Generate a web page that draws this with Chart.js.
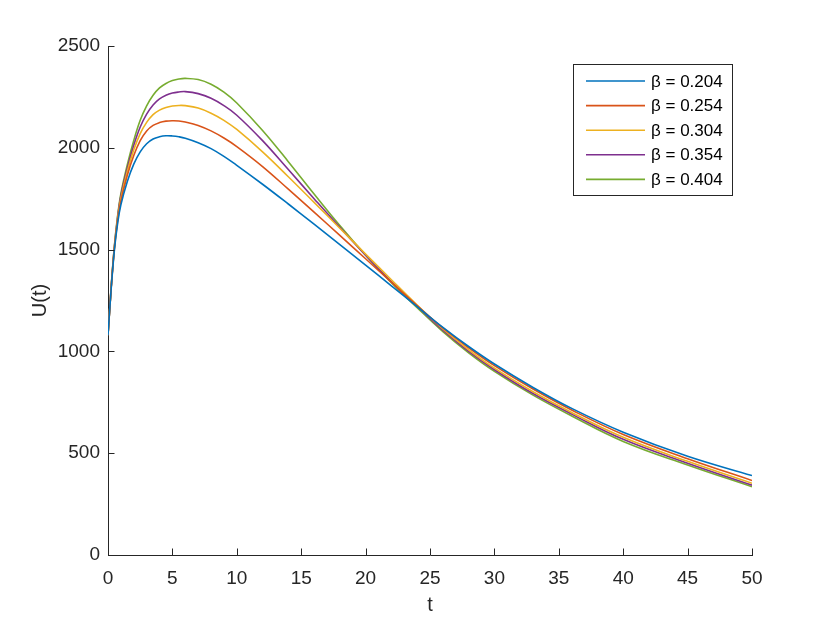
<!DOCTYPE html>
<html>
<head>
<meta charset="utf-8">
<script src="https://cdn.jsdelivr.net/npm/chart.js@4.4.0/dist/chart.umd.min.js"></script>
<style>
  html, body { margin: 0; padding: 0; background: #fff; }
</style>
</head>
<body>
<canvas id="myChart" width="830" height="623"></canvas>
<script>
// time points (t) and U(t) for each beta
const tValues = [0, 0.25, 0.5, 0.75, 1, 1.5, 2, 2.5, 3, 3.5, 4, 4.5, 5, 5.5, 6, 7, 8, 9, 10, 12, 14, 16, 18, 20, 22, 24, 26, 28, 30, 33, 36, 40, 45, 50];
const u204 = [1080, 1310, 1500, 1630, 1720, 1835, 1920, 1980, 2020, 2043, 2054, 2059, 2058, 2054, 2047, 2025, 1996, 1958, 1914, 1821, 1724, 1625, 1525, 1424, 1322, 1220, 1118, 1024, 938, 823, 720, 603, 485, 390];
const u254 = [1080, 1313, 1507, 1642, 1738, 1865, 1962, 2035, 2083, 2110, 2124, 2131, 2133, 2132, 2127, 2110, 2083, 2048, 2006, 1908, 1797, 1684, 1570, 1455, 1340, 1225, 1115, 1018, 930, 815, 712, 592, 473, 366];
const u304 = [1080, 1316, 1512, 1652, 1752, 1885, 1990, 2070, 2125, 2163, 2185, 2198, 2205, 2208, 2207, 2195, 2170, 2135, 2090, 1980, 1858, 1732, 1605, 1478, 1352, 1228, 1110, 1008, 918, 802, 700, 578, 460, 352];
const u354 = [1080, 1318, 1516, 1660, 1765, 1900, 2012, 2102, 2165, 2210, 2240, 2258, 2269, 2274, 2276, 2266, 2243, 2207, 2160, 2035, 1893, 1750, 1609, 1472, 1342, 1222, 1104, 1000, 910, 793, 692, 568, 451, 343];
const u404 = [1080, 1320, 1520, 1668, 1775, 1917, 2036, 2135, 2206, 2258, 2294, 2316, 2330, 2338, 2341, 2335, 2312, 2273, 2220, 2085, 1932, 1773, 1618, 1473, 1338, 1215, 1097, 993, 902, 785, 683, 558, 442, 335];

const betaLabels = ["β = 0.204", "β = 0.254", "β = 0.304", "β = 0.354", "β = 0.404"];
const seriesValues = [u204, u254, u304, u354, u404];
const lineColors = ["#0072BD", "#D95319", "#EDB120", "#7E2F8E", "#77AC30"];

const axisColor = "#262626";
const fontFamily = "'Liberation Sans', Arial, Helvetica, sans-serif";

// MATLAB style ticks pointing into the plot
const innerTicks = {
	id: "innerTicks",
	afterDraw(chart) {
		const { ctx, chartArea, scales } = chart;
		ctx.save();
		ctx.strokeStyle = axisColor;
		ctx.lineWidth = 1;
		ctx.beginPath();
		scales.x.ticks.forEach((tk) => {
			const px = Math.round(scales.x.getPixelForValue(tk.value)) + 0.5;
			ctx.moveTo(px, chartArea.bottom);
			ctx.lineTo(px, chartArea.bottom - 6.5);
		});
		scales.y.ticks.forEach((tk) => {
			const py = Math.round(scales.y.getPixelForValue(tk.value)) + 0.5;
			ctx.moveTo(chartArea.left, py);
			ctx.lineTo(chartArea.left + 6.5, py);
		});
		ctx.stroke();
		ctx.restore();
	},
};

// boxed legend in the upper right corner
const boxLegend = {
	id: "boxLegend",
	afterDraw(chart) {
		const { ctx } = chart;
		const left = 573.5, top = 64.5, width = 159, height = 131;
		const rowGap = 24.6, firstRow = 81;
		ctx.save();
		ctx.fillStyle = "#fff";
		ctx.fillRect(left, top, width, height);
		ctx.strokeStyle = axisColor;
		ctx.lineWidth = 1;
		ctx.strokeRect(left, top, width, height);
		ctx.font = "17px " + fontFamily;
		ctx.textBaseline = "middle";
		ctx.textAlign = "left";
		chart.data.datasets.forEach((ds, i) => {
			const y = firstRow + i * rowGap;
			ctx.strokeStyle = ds.borderColor;
			ctx.lineWidth = ds.borderWidth;
			ctx.beginPath();
			ctx.moveTo(586, y);
			ctx.lineTo(645, y);
			ctx.stroke();
			ctx.fillStyle = "#000";
			ctx.fillText(ds.label, 651, y + 1);
		});
		ctx.restore();
	},
};

const ctx = document.getElementById("myChart").getContext("2d");
new Chart(ctx, {
	type: "line",
	data: {
		datasets: seriesValues.map((vals, i) => ({
			label: betaLabels[i],
			data: tValues.map((t, j) => ({ x: t, y: vals[j] })),
			borderColor: lineColors[i],
			backgroundColor: lineColors[i],
			borderWidth: 1.6,
			pointRadius: 0,
			fill: false,
			tension: 0.4,
		})),
	},
	options: {
		responsive: false,
		animation: false,
		layout: { padding: { top: 46, right: 78, bottom: 0, left: 0 } },
		plugins: {
			legend: { display: false },
			tooltip: { enabled: false },
		},
		scales: {
			x: {
				type: "linear",
				min: 0,
				max: 50,
				ticks: { stepSize: 5, color: axisColor, font: { family: fontFamily, size: 19 }, padding: 12, maxRotation: 0 },
				grid: { display: false, drawTicks: false },
				border: { display: true, color: axisColor, width: 1 },
				title: { display: true, text: "t", color: axisColor, font: { family: fontFamily, size: 20 }, padding: { top: 0, bottom: 6 } },
				afterFit: (scale) => { scale.height = 68; },
			},
			y: {
				min: 0,
				max: 2500,
				ticks: { stepSize: 500, color: axisColor, font: { family: fontFamily, size: 19 }, padding: 8, callback: (v) => String(v) },
				grid: { display: false, drawTicks: false },
				border: { display: true, color: axisColor, width: 1 },
				title: { display: true, text: "U(t)", color: axisColor, font: { family: fontFamily, size: 20 }, padding: { top: 28, bottom: 0 } },
				afterFit: (scale) => { scale.width = 108; },
			},
		},
	},
	plugins: [innerTicks, boxLegend],
});
</script>
</body>
</html>
